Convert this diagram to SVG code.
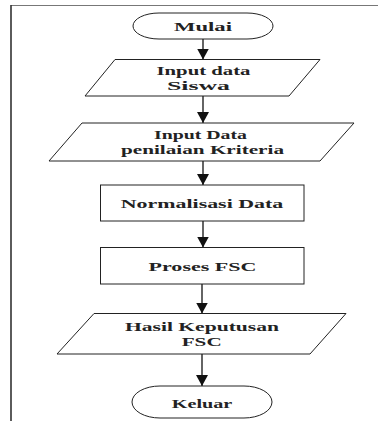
<svg xmlns="http://www.w3.org/2000/svg" width="378" height="421" viewBox="0 0 378 421">
<style>
.s{fill:#fff;stroke:#222;stroke-width:1}
.t{font-family:"Liberation Serif","Times New Roman",serif;font-size:13.5px;font-weight:bold;fill:#222;text-anchor:middle}
.c{stroke:#111;stroke-width:1.3;fill:none}
</style>
<defs>
<marker id="ah" markerWidth="11" markerHeight="12" refX="11" refY="6" orient="auto" markerUnits="userSpaceOnUse" viewBox="0 0 11 12">
<path d="M0,0 L11,6 L0,12 Z" fill="#111"/>
</marker>
</defs>
<g id="frame">
<line x1="11" y1="5.5" x2="378" y2="5.5" stroke="#777" stroke-width="1"/>
<line x1="11" y1="5" x2="11" y2="421" stroke="#333" stroke-width="1.6"/>
</g>
<g id="connectors">
<line class="c" x1="203" y1="39" x2="203" y2="59.5" marker-end="url(#ah)"/>
<line class="c" x1="203" y1="96" x2="203" y2="123" marker-end="url(#ah)"/>
<line class="c" x1="203" y1="161" x2="203" y2="185" marker-end="url(#ah)"/>
<line class="c" x1="203" y1="221" x2="203" y2="247.5" marker-end="url(#ah)"/>
<line class="c" x1="202" y1="284" x2="202" y2="313.5" marker-end="url(#ah)"/>
<line class="c" x1="202" y1="354" x2="202" y2="386" marker-end="url(#ah)"/>
</g>
<g id="mulai">
<rect class="s" x="133" y="13" width="140" height="26" rx="26" ry="13"/>
<text class="t" x="203" y="30.5" textLength="58" lengthAdjust="spacingAndGlyphs">Mulai</text>
</g>
<g id="input-siswa">
<polygon class="s" points="115,59.5 320,59.5 289,96 85,96"/>
<text class="t" x="203.5" y="75" textLength="94" lengthAdjust="spacingAndGlyphs">Input data</text>
<text class="t" x="198.5" y="90" textLength="63" lengthAdjust="spacingAndGlyphs">Siswa</text>
</g>
<g id="input-kriteria">
<polygon class="s" points="82,123 354,123 320,161 49,161"/>
<text class="t" x="200.5" y="139" textLength="93" lengthAdjust="spacingAndGlyphs">Input Data</text>
<text class="t" x="202.5" y="154" textLength="163" lengthAdjust="spacingAndGlyphs">penilaian Kriteria</text>
</g>
<g id="normalisasi">
<rect class="s" x="100.5" y="185" width="203.5" height="36"/>
<text class="t" x="202" y="207.5" textLength="162.5" lengthAdjust="spacingAndGlyphs">Normalisasi Data</text>
</g>
<g id="proses">
<rect class="s" x="100.5" y="247.5" width="203.5" height="36.5"/>
<text class="t" x="202.5" y="270.5" textLength="108" lengthAdjust="spacingAndGlyphs">Proses FSC</text>
</g>
<g id="hasil">
<polygon class="s" points="94,313.5 346,313.5 310,354 57,354"/>
<text class="t" x="202" y="330.5" textLength="154" lengthAdjust="spacingAndGlyphs">Hasil Keputusan</text>
<text class="t" x="201.7" y="345.5" textLength="40" lengthAdjust="spacingAndGlyphs">FSC</text>
</g>
<g id="keluar">
<rect class="s" x="132" y="386" width="140" height="32" rx="28" ry="16"/>
<text class="t" x="202" y="407.5" textLength="60.5" lengthAdjust="spacingAndGlyphs">Keluar</text>
</g>
</svg>
